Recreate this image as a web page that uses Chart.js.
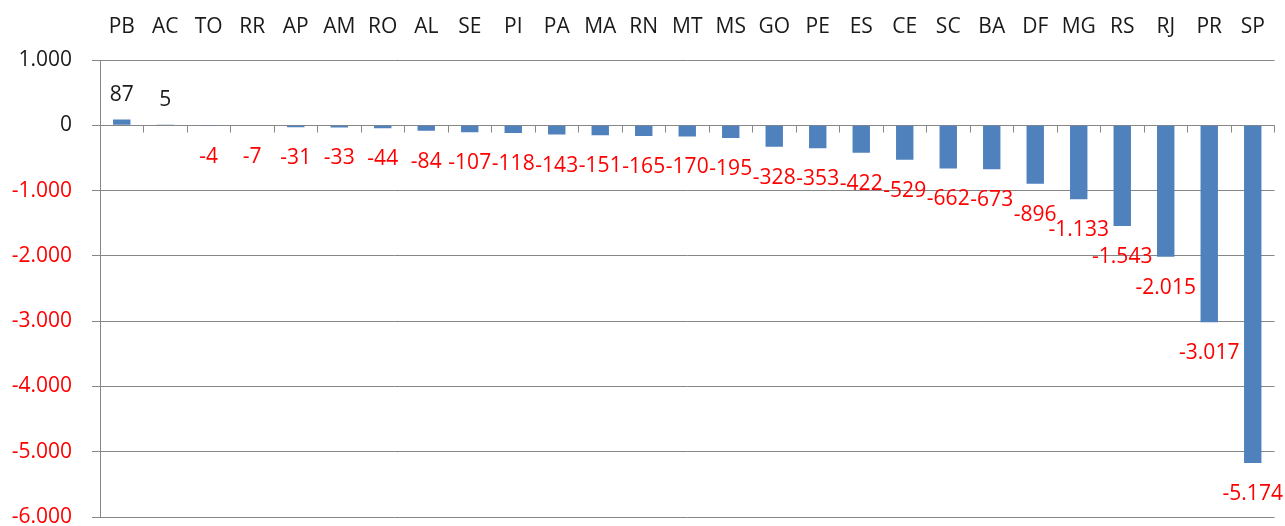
<!DOCTYPE html>
<html>
<head>
<meta charset="utf-8">
<script src="https://cdn.jsdelivr.net/npm/chart.js@4/dist/chart.umd.min.js"></script>
<style>
html,body{margin:0;padding:0;background:#fff;}
#wrap{width:1285px;height:526px;position:relative;}
</style>
</head>
<body>
<div id="wrap"><canvas id="c"></canvas></div>
<script>
const categories = ['PB','AC','TO','RR','AP','AM','RO','AL','SE','PI','PA','MA','RN','MT','MS','GO','PE','ES','CE','SC','BA','DF','MG','RS','RJ','PR','SP'];
const values = [87,5,-4,-7,-31,-33,-44,-84,-107,-118,-143,-151,-165,-170,-195,-328,-353,-422,-529,-662,-673,-896,-1133,-1543,-2015,-3017,-5174];
const yMin = -6000, yMax = 1000, yStep = 1000;

const FONT = "'Open Sans', 'Liberation Sans', sans-serif";
const GRAY = '#868686';
const BAR = '#4F81BD';
const RED = '#FF0000';
const TEXT = '#1a1a1a';

function fmt(v){
  const s = Math.abs(v).toString().replace(/\B(?=(\d{3})+(?!\d))/g,'.');
  return (v < 0 ? '-' : '') + s;
}

const labelsPlugin = {
  id: 'valueLabels',
  afterDatasetsDraw(chart){
    const ctx = chart.ctx;
    const meta = chart.getDatasetMeta(0);
    ctx.save();
    ctx.font = '21px ' + FONT;
    ctx.textAlign = 'center';
    ctx.textBaseline = 'middle';
    meta.data.forEach((el, i) => {
      const v = values[i];
      if (v >= 0) {
        ctx.fillStyle = TEXT;
        ctx.fillText(fmt(v), el.x, el.y - 25);
      } else {
        ctx.fillStyle = RED;
        ctx.fillText(fmt(v), el.x, el.y + 31);
      }
    });
    ctx.restore();
  }
};

const zeroAxisPlugin = {
  id: 'zeroAxis',
  beforeDatasetsDraw(chart){
    const ctx = chart.ctx;
    const x = chart.scales.x, y = chart.scales.y;
    const y0 = Math.round(y.getPixelForValue(0)) + 0.5;
    const area = chart.chartArea;
    ctx.save();
    ctx.strokeStyle = GRAY;
    ctx.lineWidth = 1;
    ctx.beginPath();
    ctx.moveTo(area.left, y0);
    ctx.lineTo(area.right, y0);
    const n = categories.length;
    for (let i = 0; i < n; i++) {
      let px;
      if (i + 1 < n) px = (x.getPixelForValue(i) + x.getPixelForValue(i + 1)) / 2;
      else px = area.right - 0.5;
      px = Math.round(px) + 0.5;
      ctx.moveTo(px, y0);
      ctx.lineTo(px, y0 + 7);
    }
    ctx.stroke();
    ctx.restore();
  }
};

new Chart(document.getElementById('c'), {
  type: 'bar',
  data: {
    labels: categories,
    datasets: [{
      data: values,
      backgroundColor: BAR,
      borderWidth: 0,
      barPercentage: 0.4,
      categoryPercentage: 1.0
    }]
  },
  options: {
    responsive: true,
    maintainAspectRatio: false,
    animation: false,
    devicePixelRatio: 1,
    layout: { padding: { left: 0, right: 10, top: 0, bottom: 0 } },
    plugins: {
      legend: { display: false },
      tooltip: { enabled: false },
      title: { display: false }
    },
    scales: {
      x: {
        position: 'top',
        grid: { display: false, drawTicks: false },
        border: { display: false },
        ticks: {
          color: TEXT,
          font: { family: FONT, size: 21 },
          padding: 20,
          maxRotation: 0,
          autoSkip: false
        },
        afterFit(scale){ scale.height = 60; }
      },
      y: {
        min: yMin,
        max: yMax,
        grid: {
          color: GRAY,
          lineWidth: 1,
          drawTicks: true,
          tickLength: 8,
          tickColor: GRAY
        },
        border: { display: true, color: GRAY, width: 1 },
        ticks: {
          stepSize: yStep,
          padding: 20,
          font: { family: FONT, size: 21 },
          color: (c) => (c.tick && c.tick.value < 0 ? RED : TEXT),
          callback: (v) => fmt(v)
        },
        afterFit(scale){ scale.width = 100; scale.paddingBottom = 9; }
      }
    }
  },
  plugins: [labelsPlugin, zeroAxisPlugin]
});
</script>
</body>
</html>
